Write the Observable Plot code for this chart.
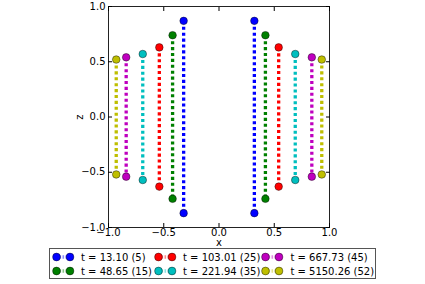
<!DOCTYPE html>
<html><head><meta charset="utf-8">
<script src="https://cdn.jsdelivr.net/npm/d3@7"></script>
<script src="https://cdn.jsdelivr.net/npm/@observablehq/plot@0.6"></script>
<style>
body{margin:0;background:#fff;font-family:"DejaVu Sans",sans-serif;}
#wrap{position:relative;width:425px;height:284px;overflow:hidden;}
#legend{position:absolute;left:49px;top:248px;width:327px;height:31px;box-sizing:border-box;border:1px solid #555;background:#fff;font-size:10px;color:#000;}
.item{position:absolute;display:flex;align-items:center;height:14px;white-space:nowrap;}
.item svg{margin-right:2.2px;flex:none;}
</style></head><body><div id="wrap"></div>
<script>
const times = ["13.10","48.65","103.01","221.94","667.73","5150.26"];
const steps = [5,15,25,35,45,52];
const xPos = [0.32,0.42,0.54,0.69,0.84,0.93];
const zMax = [0.87,0.74,0.63,0.57,0.54,0.52];
const colors = ["#0000ff","#008000","#ff0000","#00bfbf","#bf00bf","#bfbf00"];
const ticks = [-1,-0.5,0,0.5,1];

const lines = [];
const dots = [];
xPos.forEach((xp,i)=>{
  [-1,1].forEach(s=>{
    const seg = i+"_"+s;
    lines.push({x:s*xp, z:zMax[i], seg, c:colors[i]});
    lines.push({x:s*xp, z:-zMax[i], seg, c:colors[i]});
    dots.push({x:s*xp, z:zMax[i], c:colors[i]});
    dots.push({x:s*xp, z:-zMax[i], c:colors[i]});
  });
});
const fmt = d3.format(".1f");

const chart = Plot.plot({
  width:425, height:247,
  marginLeft:108, marginRight:96, marginTop:6, marginBottom:20,
  style:{fontFamily:"DejaVu Sans", fontSize:"10px", background:"transparent", color:"#000"},
  x:{domain:[-1,1]}, y:{domain:[-1,1]},
  color:{type:"identity"},
  marks:[
    Plot.line(lines,{x:"x",y:"z",z:"seg",stroke:"c",strokeWidth:3.3,strokeDasharray:"3.1,2.8",strokeLinecap:"butt"}),
    Plot.dot(dots,{x:"x",y:"z",r:3.8,fill:"c",stroke:"#000",strokeWidth:0.6,strokeOpacity:0.7}),
    Plot.frame({stroke:"#222",strokeWidth:1}),
    Plot.axisX({ticks, tickFormat:fmt, tickSize:0, tickPadding:1, label:"x", labelAnchor:"center", labelArrow:"none", labelOffset:18}),
    Plot.axisX({ticks, anchor:"bottom", tickSize:-4, fill:"none", label:null}),
    Plot.axisX({ticks, anchor:"top", tickSize:-4, fill:"none", label:null}),
    Plot.axisY({ticks, tickFormat:fmt, tickSize:0, tickPadding:3, label:"z", labelAnchor:"center", labelArrow:"none", labelOffset:33}),
    Plot.axisY({ticks, anchor:"left", tickSize:-4, fill:"none", label:null}),
    Plot.axisY({ticks, anchor:"right", tickSize:-4, fill:"none", label:null})
  ]
});
const wrap = document.getElementById("wrap");
wrap.appendChild(chart);

const legend = document.createElement("div");
legend.id = "legend";
// legend slot layout: series index, column left, row top (px inside the box)
const slots = [[0,1.8,1],[1,1.8,15],[2,103.8,1],[3,103.8,15],[4,211.2,1],[5,211.2,15]];
slots.forEach(([i,left,top])=>{
  const item = document.createElement("div");
  item.className = "item";
  item.style.left = left+"px"; item.style.top = top+"px";
  const ns = "http://www.w3.org/2000/svg";
  const svg = document.createElementNS(ns,"svg");
  svg.setAttribute("width",27); svg.setAttribute("height",14);
  const ln = document.createElementNS(ns,"line");
  ln.setAttribute("x1",4.5); ln.setAttribute("x2",18); ln.setAttribute("y1",7); ln.setAttribute("y2",7);
  ln.setAttribute("stroke",colors[i]); ln.setAttribute("stroke-width",3.3);
  ln.setAttribute("stroke-dasharray","1.6,1.4"); ln.setAttribute("opacity",0.45);
  svg.appendChild(ln);
  [4.5,18].forEach(cx=>{
    const c = document.createElementNS(ns,"circle");
    c.setAttribute("cx",cx); c.setAttribute("cy",7); c.setAttribute("r",3.9);
    c.setAttribute("fill",colors[i]); c.setAttribute("stroke","#000");
    c.setAttribute("stroke-width",0.6); c.setAttribute("stroke-opacity",0.7);
    svg.appendChild(c);
  });
  item.appendChild(svg);
  const sp = document.createElement("span");
  sp.textContent = `t = ${times[i]} (${steps[i]})`;
  item.appendChild(sp);
  legend.appendChild(item);
});
wrap.appendChild(legend);
</script></body></html>
